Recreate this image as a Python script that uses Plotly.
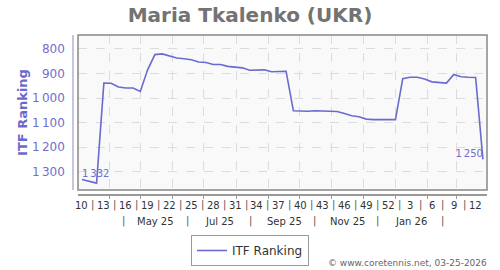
import pandas as pd
import plotly.graph_objects as go

# ---- data ----
start_date = "2025-03-06"
ranking = [1332, 1340, 1347, 939, 940, 955, 959, 959, 973, 885,
           823, 820, 830, 837, 840, 844, 853, 855, 863, 863,
           871, 873, 877, 887, 886, 885, 893, 892, 891, 1052,
           1054, 1054, 1052, 1053, 1054, 1055, 1063, 1072, 1076, 1086,
           1088, 1088, 1089, 1088, 921, 915, 915, 922, 934, 937,
           939, 904, 913, 915, 916, 1250]
dates = list(pd.date_range(start_date, periods=len(ranking), freq="7D"))

week_labels = ["10", "13", "16", "19", "22", "25", "28", "31", "34", "37",
               "40", "43", "46", "49", "52", "3", "6", "9", "12"]
week_label_idx = list(range(0, len(ranking) - 1, 3))
month_labels = ["May 25", "Jul 25", "Sep 25", "Nov 25", "Jan 26"]
month_label_dates = ["2025-05-16", "2025-07-16", "2025-09-16", "2025-11-16", "2026-01-16"]
month_sep_dates = ["2025-04-15", "2025-06-15", "2025-08-15", "2025-10-15", "2025-12-15", "2026-02-15"]
y_ticks = [800, 900, 1000, 1100, 1200, 1300]
y_ticktext = ["800", "900", "1\u2009000", "1\u2009100", "1\u2009200", "1\u2009300"]

title = "Maria Tkalenko (UKR)"
series_name = "ITF Ranking"
credit = "© www.coretennis.net, 03-25-2026"

FONT = "DejaVu Sans"
LINE = "#6a6ad0"
BLUE_TXT = "#6f6fcc"

def fmt(v):
    s = f"{v:,}"
    return s.replace(",", "\u2009")

text = [""] * len(ranking)
text[0] = fmt(ranking[0])
text[-1] = fmt(ranking[-1])
textpos = ["top right"] * len(ranking)
textpos[-1] = "top left"

fig = go.Figure()
fig.add_trace(go.Scatter(
    x=dates, y=ranking, mode="lines+text", name=series_name,
    line=dict(color=LINE, width=1.6),
    text=text, textposition=textpos,
    textfont=dict(family=FONT, size=10, color=BLUE_TXT),
    cliponaxis=False,
))

W, H = 500, 270
ml, mr, mt, mb = 73, 13, 35, 75
pw = W - ml - mr
ph = H - mt - mb

def py(pix):
    return (H - mb - pix) / ph

annotations = []
# week labels and separators
for k, (lab, idx) in enumerate(zip(week_labels, week_label_idx)):
    annotations.append(dict(x=dates[idx], y=py(205), xref="x", yref="paper",
                            text=lab, showarrow=False, xanchor="center", yanchor="middle",
                            font=dict(family=FONT, size=10, color="#333")))
    if k < len(week_labels) - 1:
        nxt = dates[week_label_idx[k + 1]]
        mid = dates[idx] + (nxt - dates[idx]) / 2
        annotations.append(dict(x=mid, y=py(205), xref="x", yref="paper",
                                text="|", showarrow=False, xanchor="center", yanchor="middle",
                                font=dict(family=FONT, size=10, color="#555")))
for lab, d in zip(month_labels, month_label_dates):
    annotations.append(dict(x=d, y=py(221), xref="x", yref="paper", text=lab,
                            showarrow=False, xanchor="center", yanchor="middle",
                            font=dict(family=FONT, size=10, color="#333")))
for d in month_sep_dates:
    annotations.append(dict(x=d, y=py(221), xref="x", yref="paper", text="|",
                            showarrow=False, xanchor="center", yanchor="middle",
                            font=dict(family=FONT, size=10, color="#555")))
annotations.append(dict(x=1.005, y=py(263), xref="paper", yref="paper", text=credit,
                        showarrow=False, xanchor="right", yanchor="middle",
                        font=dict(family=FONT, size=9, color="#666")))

fig.update_layout(
    width=W, height=H,
    margin=dict(l=ml, r=mr, t=mt, b=mb),
    paper_bgcolor="white", plot_bgcolor="#f9f9f9",
    font=dict(family=FONT),
    title=dict(text=f"<b>{title}</b>", x=0.5, xref="container", xanchor="center",
               y=1 - 14.5 / H, yref="container", yanchor="middle",
               font=dict(family=FONT, size=20, color="#737373")),
    showlegend=True,
    legend=dict(x=0.5, xref="container", xanchor="center",
                y=1 - 235 / H, yref="container", yanchor="top",
                orientation="h", bordercolor="#999", borderwidth=1,
                itemwidth=30, font=dict(family=FONT, size=12, color="#333"),
                bgcolor="white"),
    annotations=annotations,
    shapes=[dict(type="rect", xref="x domain", yref="y domain", x0=0, x1=1, y0=0, y1=1,
                 line=dict(color="#888", width=1.5), layer="above")],
)
fig.update_xaxes(
    domain=[5 / pw, 1], anchor="free", position=0,
    range=["2025-03-02 04:00", "2026-03-29 22:00"],
    showline=True, linecolor="#999", linewidth=1.5,
    ticks="outside", ticklen=3, tickcolor="#999", tickwidth=1,
    tick0="2025-04-01", dtick="M1", showticklabels=False,
    showgrid=True, gridcolor="#dcdcdc", griddash="dash", gridwidth=1,
    zeroline=False,
)
fig.update_yaxes(
    domain=[5 / ph, 1], anchor="free", position=0,
    range=[1375, 743],
    showline=True, linecolor="#c4c4e4", linewidth=1.5,
    ticks="", tickvals=y_ticks, ticktext=y_ticktext, ticklabelstandoff=5,
    tickfont=dict(family=FONT, size=12, color=BLUE_TXT),
    showgrid=True, gridcolor="#dcdcdc", griddash="dash", gridwidth=1,
    zeroline=False,
    title=dict(text="<b>" + series_name + "</b>", standoff=0,
               font=dict(family=FONT, size=13, color="#6a6acc")),
)

fig.write_html("out.html")
